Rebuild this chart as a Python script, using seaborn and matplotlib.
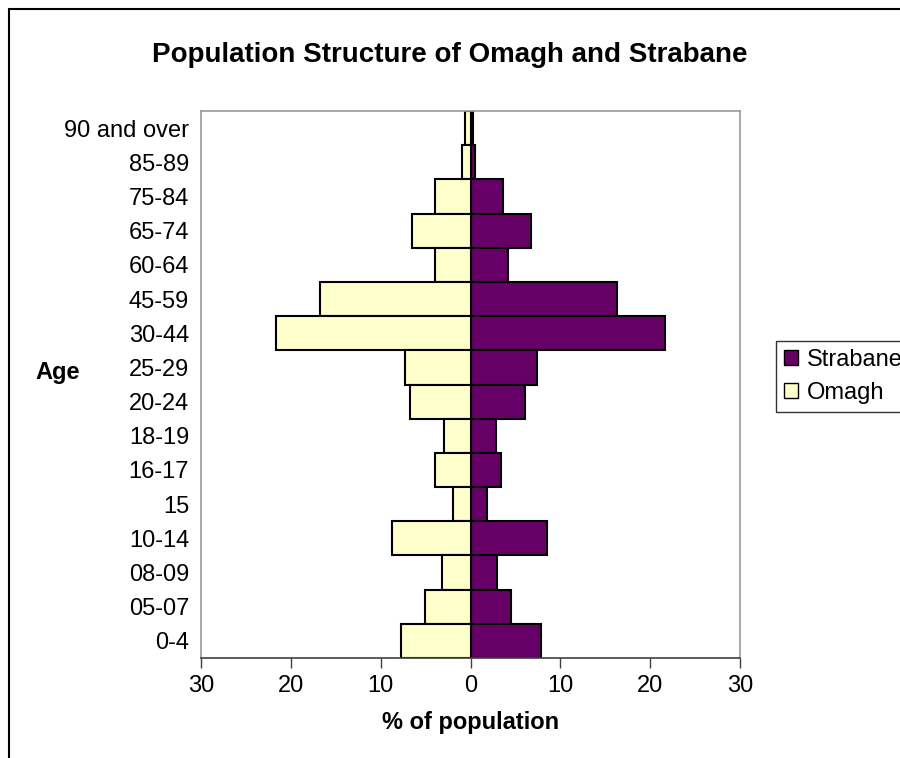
import numpy as np
import pandas as pd
import matplotlib
matplotlib.use('Agg')
import matplotlib.pyplot as plt
import seaborn as sns
from matplotlib.patches import Patch, Rectangle

# age groups, bottom to top
ages = ['0-4', '05-07', '08-09', '10-14', '15', '16-17', '18-19', '20-24',
        '25-29', '30-44', '45-59', '60-64', '65-74', '75-84', '85-89', '90 and over']
omagh = [7.7, 5.1, 3.2, 8.7, 2.0, 3.9, 3.0, 6.7, 7.3, 21.6, 16.8, 4.0, 6.5, 4.0, 1.0, 0.6]
strabane = [7.9, 4.5, 3.0, 8.5, 1.8, 3.4, 2.8, 6.1, 7.4, 21.6, 16.3, 4.2, 6.7, 3.6, 0.55, 0.3]
xticks = [-30, -20, -10, 0, 10, 20, 30]

sns.set_style('white')
plt.rcParams['font.family'] = ['Liberation Sans', 'DejaVu Sans']
plt.rcParams['text.color'] = 'black'
plt.rcParams['xtick.color'] = 'black'
plt.rcParams['ytick.color'] = 'black'

df = pd.DataFrame({
    'age': ages * 2,
    'pct': [-v for v in omagh] + strabane,
    'town': ['Omagh'] * len(ages) + ['Strabane'] * len(ages),
})

fig = plt.figure(figsize=(9, 7.58), dpi=100)
ax = fig.add_axes([201 / 900, 1 - 658 / 758, 539 / 900, 547 / 758])

sns.barplot(data=df, x='pct', y='age', hue='town', order=ages[::-1],
            hue_order=['Strabane', 'Omagh'], palette={'Strabane': '#660066', 'Omagh': '#FFFFCC'},
            dodge=False, width=1.0, saturation=1, edgecolor='black', linewidth=1.5, ax=ax)

ax.set_xlim(-30, 30)
ax.set_ylim(len(ages) - 0.5, -0.5)
ax.set_xticks(xticks)
ax.set_xticklabels([str(abs(t)) for t in xticks], fontsize=17)
ax.tick_params(axis='y', labelsize=17, length=0, pad=8.5)
ax.tick_params(axis='x', length=7, width=1, color='#404040', direction='out', bottom=True, pad=5)
ax.set_xlabel('')
ax.set_ylabel('')
for s in ['top', 'right', 'left']:
    ax.spines[s].set_color('#999999')
    ax.spines[s].set_linewidth(1.2)
ax.spines['bottom'].set_color('#404040')
ax.spines['bottom'].set_linewidth(1.2)

if ax.get_legend() is not None:
    ax.get_legend().remove()

fig.text(0.5, 1 - 55 / 758, 'Population Structure of Omagh and Strabane',
         ha='center', va='center', fontsize=20, fontweight='bold')
fig.text(471 / 900, 1 - 722 / 758, '% of population', ha='center', va='center',
         fontsize=17, fontweight='bold')
fig.text(58 / 900, 1 - 372 / 758, 'Age', ha='center', va='center',
         fontsize=17, fontweight='bold')

handles = [Patch(facecolor='#660066', edgecolor='black', linewidth=1),
           Patch(facecolor='#FFFFCC', edgecolor='black', linewidth=1)]
leg = fig.legend(handles, ['Strabane', 'Omagh'], loc='upper left',
                 bbox_to_anchor=(776 / 900, 1 - 341 / 758), fontsize=17,
                 frameon=True, fancybox=False, edgecolor='black',
                 handlelength=0.6, handleheight=0.6, handletextpad=0.35,
                 borderpad=0.35, labelspacing=0.45, borderaxespad=0)
leg.get_frame().set_linewidth(1)

# outer chart border (cropped at right and bottom)
fig.patches.append(Rectangle((9 / 900, -0.1), 1.0, 1 - 9 / 758 + 0.1, transform=fig.transFigure,
                             fill=False, edgecolor='black', linewidth=1.5))

fig.savefig('out.png', dpi=100)
